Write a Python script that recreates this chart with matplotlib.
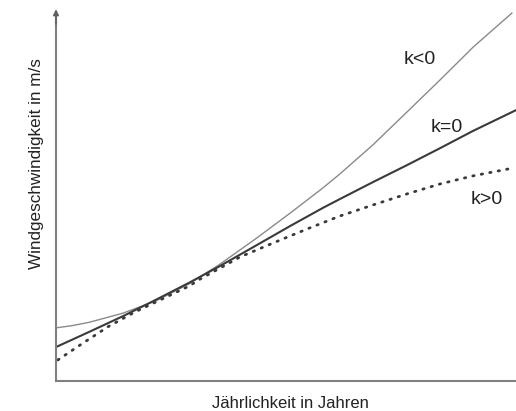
import matplotlib
matplotlib.use("Agg")
import matplotlib.pyplot as plt

plt.rcParams['font.family'] = ['Liberation Sans', 'DejaVu Sans']

# x positions (arbitrary units 0..100) and curve values
x_neg = [0.0, 3.5, 7.2, 14.6, 21.7, 28.9, 35.7, 43.7, 50.9, 58.0, 61.7, 68.9, 76.3, 83.5, 90.7, 99.1]
y_neg = [14.4, 15.0, 15.9, 18.4, 21.7, 26.3, 31.7, 38.8, 45.5, 52.3, 56.1, 64.0, 72.9, 81.6, 90.5, 99.7]

x_zero = [0.0, 7.2, 14.6, 21.7, 28.9, 35.7, 42.2, 50.9, 58.0, 61.7, 68.9, 76.3, 83.5, 90.7, 100.0]
y_zero = [9.2, 13.3, 17.6, 22.0, 26.6, 31.2, 35.8, 42.0, 46.9, 49.3, 53.9, 58.5, 63.1, 67.8, 73.4]

x_pos = [0.4, 5.9, 11.3, 17.0, 21.7, 28.9, 31.3, 40.0, 47.2, 54.6, 61.7, 68.9, 76.3, 83.5, 90.7, 99.3]
y_pos = [5.7, 10.3, 14.7, 18.6, 21.4, 25.7, 27.6, 33.6, 37.4, 41.2, 44.7, 47.7, 50.7, 53.4, 55.6, 57.7]

labels = ["k<0", "k=0", "k>0"]

W, H = 516, 411
fig = plt.figure(figsize=(W / 100, H / 100), dpi=100)
ax = fig.add_axes([56 / W, (H - 381) / H, 460 / W, 369 / H])

ax.plot(x_neg, y_neg, color="#8a8a8a", lw=1.0)
ax.plot(x_zero, y_zero, color="#3a3a3a", lw=1.5)
ax.plot(x_pos, y_pos, color="#3a3a3a", lw=2.0, linestyle=(0, (0.5, 2.6)),
        dash_capstyle="round")

ax.set_xlim(0, 100)
ax.set_ylim(0, 100)

for s in ["top", "right"]:
    ax.spines[s].set_visible(False)
for s in ["left", "bottom"]:
    ax.spines[s].set_color("#808080")
    ax.spines[s].set_linewidth(1.5)
ax.set_xticks([])
ax.set_yticks([])

# arrow head on y axis
ax.annotate("", xy=(0, 101.5), xytext=(0, 96), xycoords="data",
            arrowprops=dict(arrowstyle="-|>", color="#606060", lw=1.2,
                            mutation_scale=8), annotation_clip=False)

ax.text(79.1, 87.0, labels[0], fontsize=14, color="#222222", ha="center", va="center")
ax.text(85.0, 68.6, labels[1], fontsize=14, color="#222222", ha="center", va="center")
ax.text(93.7, 49.1, labels[2], fontsize=14, color="#222222", ha="center", va="center")

fig.text(37 / W, 1 - 164 / H, "Windgeschwindigkeit in m/s", rotation=90,
         fontsize=12.3, color="#222222", ha="center", va="center")
fig.text(290 / W, 1 - 403 / H, "Jährlichkeit in Jahren",
         fontsize=12, color="#222222", ha="center", va="center")

fig.savefig("out.png", dpi=100)
